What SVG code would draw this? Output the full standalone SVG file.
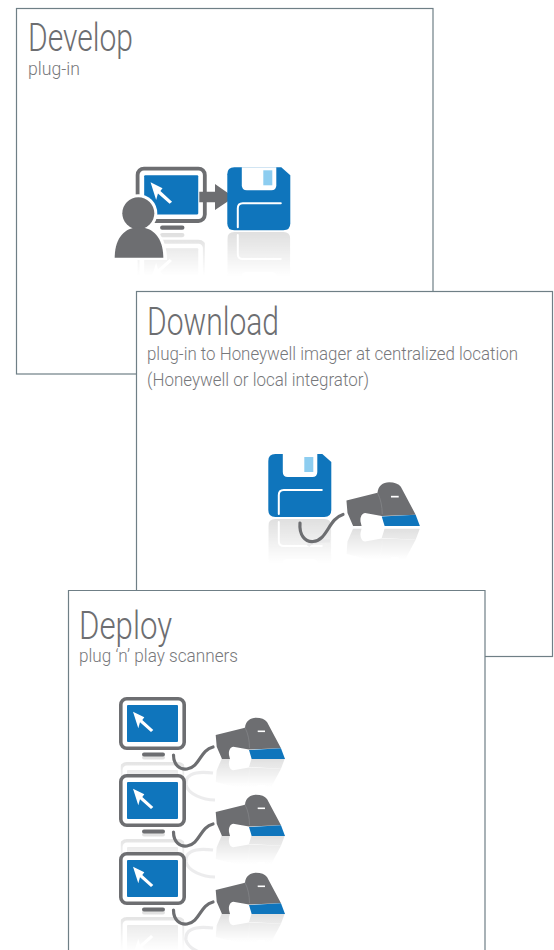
<svg xmlns="http://www.w3.org/2000/svg" width="554" height="950" viewBox="0 0 554 950">
<style>
.panel{fill:#fff;stroke:#6f7f86;stroke-width:1.2}
.t{font-family:Roboto,"Liberation Sans",sans-serif;font-weight:300;fill:#6d6e71;font-size:38px}
.s{font-family:Roboto,"Liberation Sans",sans-serif;font-weight:300;fill:#77787b;font-size:19px}
.g{fill:#6d6e71}.b{fill:#0f75bc}
.cable{fill:none;stroke:#6d6e71;stroke-width:3.2;stroke-linecap:round}
.ghost{fill:none;stroke:#e6e6e7;stroke-width:3.2}
</style>
<defs>
<filter id="grey" x="-5%" y="-5%" width="110%" height="110%"><feColorMatrix type="saturate" values="0"/></filter>
<linearGradient id="fadeG" x1="0" y1="1" x2="0" y2="0.3">
<stop offset="0" stop-color="#fff" stop-opacity="0.22"/><stop offset="1" stop-color="#fff" stop-opacity="0"/>
</linearGradient>
<mask id="fade" maskContentUnits="objectBoundingBox" x="-0.1" y="-0.1" width="1.2" height="1.2"><rect x="0" y="0" width="1" height="1" fill="url(#fadeG)"/></mask>
<g id="monitor">
<rect x="1.800" y="1.800" width="63.400" height="49.400" rx="6" fill="#fff" stroke="#6d6e71" stroke-width="3.600"/>
<rect class="b" x="8" y="8" width="51" height="37" rx="1"/>
<polygon fill="#fff" points="14,14.7 25.3,20.3 23.3,23 34.3,33 32,35 21,25.3 19.3,31.3"/>
<rect class="g" x="23" y="55.5" width="23" height="4" rx="2"/>
</g>
<g id="floppy">
<path class="b" d="M7,0H54L63,8V56Q63,63 56,63H7Q0,63 0,56V7Q0,0 7,0Z"/>
<path fill="#fff" d="M14.500,0H49V18Q49,23 44,23H19.500Q14.500,23 14.500,18Z"/>
<rect x="36" y="3" width="9" height="15" fill="#8dcdf0"/>
<path d="M10.500,60V41Q10.500,36 15.500,36H53.500" fill="none" stroke="#fff" stroke-width="2" stroke-linecap="round"/>
</g>
<g id="scanner">
<path class="g" d="M0.700,18L30,10.700C30.500,4.500 35,0.800 41,0.800C46,0.800 50,2.300 52,5L66,31.300L34,32.500L18.300,29.700C15,30 13.500,34 14,38L15,42L7,42L1.700,29.700Z"/>
<path class="b" d="M34,33L66,31.300L70,42H36.700Z"/>
<path d="M42.700,14.300H50" stroke="#fff" stroke-width="1.600"/>
<path d="M30,10.700C33,16 34.500,24 34.500,31" fill="none" stroke="#8a8b8e" stroke-width=".6"/>
</g>
<g id="station">
<g filter="url(#grey)"><use href="#monitor" transform="translate(0,118) scale(1,-1)" mask="url(#fade)"/></g>
<g filter="url(#grey)"><use href="#scanner" transform="translate(96,103) scale(1,-1)" mask="url(#fade)"/></g>
<path class="ghost" d="M94,76C72,73 66,80 67,88C69,97 84,103 96,103" opacity=".75"/>
<use href="#monitor"/>
<path class="cable" d="M54.500,58C54.500,68 61,73 68,72C81,70 81,53 94,50"/>
<use href="#scanner" x="96" y="20"/>
</g>
</defs>

<g id="develop">
<rect class="panel" x="16.500" y="8.500" width="416.500" height="365.500"/>
<text class="t" x="28" y="51" textLength="105" lengthAdjust="spacingAndGlyphs">Develop</text>
<text class="s" x="28" y="75" textLength="52" lengthAdjust="spacingAndGlyphs">plug-in</text>
<g id="develop-icon">
<g filter="url(#grey)"><use href="#monitor" transform="translate(135.700,296) scale(1.06,-1.060)" mask="url(#fade)"/></g>
<g filter="url(#grey)"><use href="#floppy" transform="translate(227.300,295) scale(1,-1)" mask="url(#fade)"/></g>
<use href="#monitor" transform="translate(135.700,166.700) scale(1.06,1.06)"/>
<path class="g" d="M199.300,191.700H215V184L234,197.300L215,210V202.300H199.300Z"/>
<use href="#floppy" x="227.300" y="167.300"/>
<circle cx="138.300" cy="213.300" r="19" fill="#fff"/>
<path fill="#fff" d="M111,260C111,238 122,224 139,224C156,224 167,238 167,260Z"/>
<circle class="g" cx="138.300" cy="213.300" r="16"/>
<path class="g" d="M114.700,257.700C114.700,239 124,227.300 139,227.300C154,227.300 163.300,239 163.300,257.700Z"/>
</g>
</g>

<g id="download">
<rect class="panel" x="136.500" y="291.500" width="416" height="365"/>
<text class="t" x="147" y="335" textLength="132" lengthAdjust="spacingAndGlyphs">Download</text>
<text class="s" x="147" y="360" textLength="371" lengthAdjust="spacingAndGlyphs">plug-in to Honeywell imager at centralized location</text>
<text class="s" x="147" y="386" textLength="222" lengthAdjust="spacingAndGlyphs">(Honeywell or local integrator)</text>
<g id="download-icon">
<g filter="url(#grey)"><use href="#floppy" transform="translate(268.300,582) scale(1,-1)" mask="url(#fade)"/></g>
<g filter="url(#grey)"><use href="#scanner" transform="translate(345.700,573) scale(1.06,-1.060)" mask="url(#fade)"/></g>
<path class="ghost" d="M330,541C318,540 310,543 308,546" opacity=".7"/>
<use href="#floppy" x="268.300" y="454"/>
<path class="cable" d="M300,523C299,535 305,542 313,541.500C328,540 328,519 343,514.500"/>
<use href="#scanner" transform="translate(345.700,481.500) scale(1.06)"/>
</g>
</g>

<g id="deploy">
<path class="panel" d="M68.500,955V590.500H485V955"/>
<text class="t" x="79" y="639" textLength="93" lengthAdjust="spacingAndGlyphs">Deploy</text>
<text class="s" x="79" y="662" textLength="159" lengthAdjust="spacingAndGlyphs">plug ‘n’ play scanners</text>
<use id="station-1" href="#station" transform="translate(119,697)"/>
<use id="station-2" href="#station" transform="translate(119,774)"/>
<use id="station-3" href="#station" transform="translate(119,852)"/>
</g>
</svg>
